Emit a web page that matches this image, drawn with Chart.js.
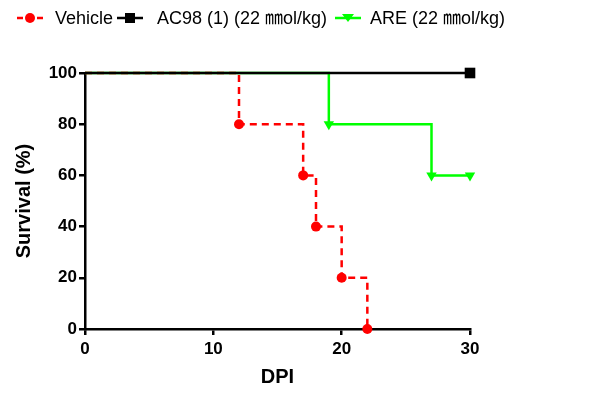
<!DOCTYPE html>
<html>
<head>
<meta charset="utf-8">
<script src="https://cdn.jsdelivr.net/npm/chart.js@4"></script>
<style>
  html, body { margin: 0; padding: 0; background: #fff; }
  #wrap { position: relative; width: 613px; height: 396px; }
  #legend { position: absolute; left: 0; top: 0; width: 613px; height: 40px;
            font-family: "Liberation Sans", Arial, "Noto Sans CJK SC", sans-serif; font-size: 18px; color: #000; }
  #legend span { position: absolute; top: 7px; white-space: nowrap; line-height: 22px; }
  #legend svg { position: absolute; top: 8px; }
</style>
</head>
<body>
<div id="wrap">
  <canvas id="chart" width="613" height="396"></canvas>
  <div id="legend">
    <svg style="left:16px" width="28" height="20"><line x1="1" y1="10" x2="27" y2="10" stroke="#ff0000" stroke-width="2.5" stroke-dasharray="6,4"/><circle cx="14" cy="10" r="5" fill="#ff0000"/></svg>
    <span style="left:55px">Vehicle</span>
    <svg style="left:116px" width="28" height="20"><line x1="1" y1="10" x2="27" y2="10" stroke="#000" stroke-width="2.5"/><rect x="9" y="5" width="10" height="10" fill="#000"/></svg>
    <span style="left:157px">AC98 (1) (22 ㎜ol/kg)</span>
    <svg style="left:334px" width="28" height="20"><line x1="1" y1="10" x2="27" y2="10" stroke="#00ff00" stroke-width="2.5"/><polygon points="8,6 20,6 14,14" fill="#00ff00"/></svg>
    <span style="left:370px">ARE (22 ㎜ol/kg)</span>
  </div>
</div>
<script>
// Kaplan-Meier survival data
const vehicleDays = [0, 12, 17, 18, 20, 22];
const vehicleSurvival = [100, 80, 60, 40, 20, 0];
const ac98Days = [0, 30];
const ac98Survival = [100, 100];
const areDays = [0, 19, 27, 30];
const areSurvival = [100, 80, 60, 60];
const xTicks = [0, 10, 20, 30];
const yTicks = [0, 20, 40, 60, 80, 100];

const toPoints = (xs, ys) => xs.map((x, i) => ({x: x, y: ys[i]}));
// no marker on the starting point
const radii = (xs, r) => xs.map((x, i) => i === 0 ? 0 : r);

const tickFont = {family: '"Liberation Sans", Arial, sans-serif', size: 17, weight: 'bold'};
const titleFont = {family: '"Liberation Sans", Arial, sans-serif', size: 20, weight: 'bold'};

const ctx = document.getElementById('chart').getContext('2d');
new Chart(ctx, {
    type: 'line',
    data: {
        datasets: [{
            label: 'AC98 (1) (22 ㎜ol/kg)',
            data: toPoints(ac98Days, ac98Survival),
            borderColor: '#000000',
            backgroundColor: '#000000',
            borderWidth: 2.5,
            stepped: 'before',
            pointStyle: 'rect',
            pointBorderWidth: 0,
            pointRadius: radii(ac98Days, 7.5),
            pointHoverRadius: radii(ac98Days, 7.5),
            clip: false
        }, {
            label: 'Vehicle',
            data: toPoints(vehicleDays, vehicleSurvival),
            borderColor: '#ff0000',
            backgroundColor: '#ff0000',
            borderWidth: 2.5,
            borderDash: [7, 5],
            stepped: 'before',
            pointStyle: 'circle',
            pointBorderWidth: 0,
            pointRadius: radii(vehicleDays, 5),
            pointHoverRadius: radii(vehicleDays, 5),
            clip: false
        }, {
            label: 'ARE (22 ㎜ol/kg)',
            data: toPoints(areDays, areSurvival),
            borderColor: '#00ff00',
            backgroundColor: '#00ff00',
            borderWidth: 2.5,
            stepped: 'before',
            pointStyle: 'triangle',
            pointRotation: 180,
            pointBorderWidth: 0,
            pointRadius: radii(areDays, 6),
            pointHoverRadius: radii(areDays, 6),
            clip: false
        }]
    },
    options: {
        responsive: false,
        animation: false,
        layout: {padding: {top: 73, right: 143, left: 0, bottom: 0}},
        scales: {
            x: {
                type: 'linear',
                min: 0,
                max: 30,
                afterBuildTicks: (scale) => { scale.ticks = xTicks.map(v => ({value: v})); },
                afterFit: (scale) => { scale.height = 67; },
                grid: {drawOnChartArea: false, drawTicks: true, tickLength: 6, color: '#000', lineWidth: 2.5},
                border: {color: '#000', width: 2.5},
                ticks: {color: '#000', font: tickFont, padding: 4, maxRotation: 0},
                title: {display: true, text: 'DPI', color: '#000', font: titleFont, padding: {top: 0, bottom: 7}}
            },
            y: {
                type: 'linear',
                min: 0,
                max: 100,
                afterBuildTicks: (scale) => { scale.ticks = yTicks.map(v => ({value: v})); },
                afterFit: (scale) => { scale.width = 85; },
                grid: {drawOnChartArea: false, drawTicks: true, tickLength: 6, color: '#000', lineWidth: 2.5},
                border: {color: '#000', width: 2.5},
                ticks: {color: '#000', font: tickFont, padding: 2},
                title: {display: true, text: 'Survival (%)', color: '#000', font: titleFont, padding: {top: 12, bottom: 0}}
            }
        },
        plugins: {
            legend: {display: false},
            tooltip: {enabled: false}
        }
    }
});
</script>
</body>
</html>
